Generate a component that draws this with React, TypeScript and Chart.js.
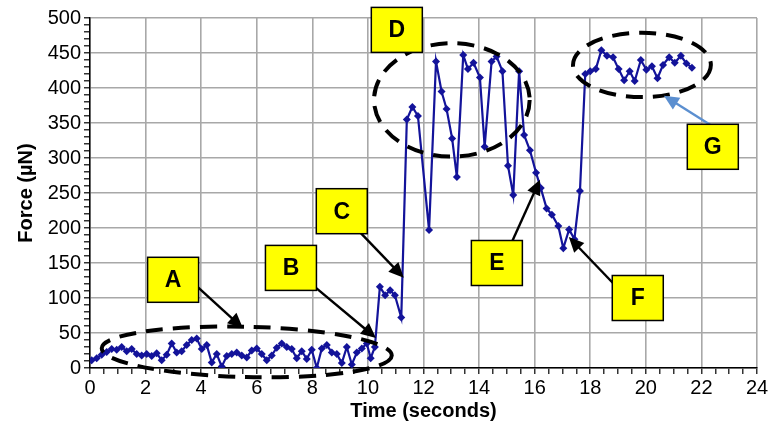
import React, { useEffect, useRef } from "react";
import { Chart, registerables } from "chart.js";

Chart.register(...registerables);

// Time (s) of each sample
const timeSec = [
  0.06, 0.24, 0.42, 0.6, 0.78, 0.96, 1.14, 1.32, 1.5, 1.68, 1.86, 2.04, 2.22, 2.4, 2.58, 2.76, 2.94, 3.12, 3.3, 3.48,
  3.66, 3.84, 4.02, 4.2, 4.38, 4.56, 4.74, 4.92, 5.1, 5.28, 5.46, 5.64, 5.82, 6.0, 6.18, 6.36, 6.54, 6.72, 6.9, 7.08,
  7.26, 7.44, 7.62, 7.8, 7.98, 8.16, 8.34, 8.52, 8.7, 8.88, 9.06, 9.24, 9.42, 9.6, 9.78, 9.96, 10.1, 10.25,
  10.43, 10.62, 10.8, 10.97, 11.2, 11.4, 11.6, 11.8, 12.2, 12.45, 12.65, 12.83, 13.03, 13.2, 13.43, 13.6, 13.8, 14.03,
  14.2, 14.45, 14.63, 14.84, 15.04, 15.23, 15.44, 15.62, 15.83, 16.05, 16.22, 16.43, 16.62, 16.85, 17.03, 17.24, 17.43,
  17.63, 17.82, 18.0, 18.2, 18.4, 18.6, 18.82, 19.02, 19.22, 19.42, 19.6, 19.82, 20.02, 20.22, 20.42, 20.62, 20.84,
  21.04, 21.26, 21.46, 21.66,
];

// Force (µN) of each sample
const forceUN = [
  11, 14, 19, 23, 27, 26, 30, 24, 27, 20, 18, 20, 17, 21, 11, 19, 35, 22, 24, 33,
  40, 42, 27, 33, 8, 20, 2, 17, 20, 22, 18, 15, 25, 28, 20, 11, 18, 29, 35, 30,
  27, 14, 24, 13, 26, 0, 28, 33, 22, 20, 7, 30, 5, 22, 28, 35, 14, 30,
  116, 104, 111, 104, 72, 355, 373, 360, 197, 438, 395, 370, 328, 273, 447, 427, 436, 415,
  316, 438, 445, 424, 289, 247, 424, 333, 311, 279, 257, 228, 219, 203, 171, 198, 184,
  253, 420, 424, 427, 454, 446, 444, 427, 411, 424, 410, 440, 426, 431, 414, 433, 444,
  436, 446, 435, 429,
];

// Annotation labels (box centre in data units)
const labelText = ["A", "B", "C", "D", "E", "F", "G"];
const labelT = [2.99, 7.23, 9.06, 11.04, 14.64, 19.71, 22.41];
const labelF = [126, 143, 224, 483, 150, 100, 316];

// Arrows (from -> to, data units)
const arrowFromT = [3.78, 7.99, 9.71, 15.18, 18.85, 22.37];
const arrowFromF = [119, 119, 194, 180, 120, 346];
const arrowToT = [5.5, 10.29, 11.29, 16.19, 17.23, 20.65];
const arrowToF = [57, 43, 129, 269, 187, 389];
const arrowColor = ["#000", "#000", "#000", "#000", "#000", "#5b8fd0"];

// Dashed ellipses (centre and radii in data units)
const ellipseT = [5.64, 13.02, 19.86];
const ellipseF = [23, 383, 433];
const ellipseRT = [5.22, 2.8, 2.48];
const ellipseRF = [36, 81, 46];
const ellipseRot = [0.025, 0, 0];

const annotPlugin = {
  id: "annot",
  afterDatasetsDraw(chart: any) {
    const { ctx, scales } = chart;
    const xs = scales.x;
    const ys = scales.y;
    ctx.save();
    ctx.strokeStyle = "#000";
    ctx.lineWidth = 4;
    ctx.setLineDash([17, 10]);
    for (let i = 0; i < ellipseT.length; i++) {
      const cx = xs.getPixelForValue(ellipseT[i]);
      const cy = ys.getPixelForValue(ellipseF[i]);
      const rx = xs.getPixelForValue(ellipseT[i] + ellipseRT[i]) - cx;
      const ry = cy - ys.getPixelForValue(ellipseF[i] + ellipseRF[i]);
      ctx.beginPath();
      ctx.ellipse(cx, cy, rx, ry, ellipseRot[i], 0, Math.PI * 2);
      ctx.stroke();
    }
    ctx.setLineDash([]);
    for (let i = 0; i < arrowFromT.length; i++) {
      const x1 = xs.getPixelForValue(arrowFromT[i]);
      const y1 = ys.getPixelForValue(arrowFromF[i]);
      const x2 = xs.getPixelForValue(arrowToT[i]);
      const y2 = ys.getPixelForValue(arrowToF[i]);
      const ang = Math.atan2(y2 - y1, x2 - x1);
      const head = 15;
      const hw = 7;
      ctx.strokeStyle = arrowColor[i];
      ctx.fillStyle = arrowColor[i];
      ctx.lineWidth = 2.4;
      ctx.beginPath();
      ctx.moveTo(x1, y1);
      ctx.lineTo(x2 - Math.cos(ang) * head * 0.8, y2 - Math.sin(ang) * head * 0.8);
      ctx.stroke();
      ctx.beginPath();
      ctx.moveTo(x2, y2);
      ctx.lineTo(x2 - Math.cos(ang) * head - Math.sin(ang) * hw, y2 - Math.sin(ang) * head + Math.cos(ang) * hw);
      ctx.lineTo(x2 - Math.cos(ang) * head + Math.sin(ang) * hw, y2 - Math.sin(ang) * head - Math.cos(ang) * hw);
      ctx.closePath();
      ctx.fill();
    }
    const bw = 51;
    const bh = 45;
    ctx.font = "bold 23px 'Liberation Sans', Arial, sans-serif";
    ctx.textAlign = "center";
    ctx.textBaseline = "middle";
    for (let i = 0; i < labelText.length; i++) {
      const cx = xs.getPixelForValue(labelT[i]);
      const cy = ys.getPixelForValue(labelF[i]);
      ctx.fillStyle = "#ffff00";
      ctx.fillRect(cx - bw / 2, cy - bh / 2, bw, bh);
      ctx.strokeStyle = "#000";
      ctx.lineWidth = 1.5;
      ctx.strokeRect(cx - bw / 2, cy - bh / 2, bw, bh);
      ctx.fillStyle = "#000";
      ctx.fillText(labelText[i], cx, cy + 1);
    }
    ctx.restore();
  },
};

export default function App() {
  const ref = useRef<HTMLCanvasElement | null>(null);
  useEffect(() => {
    if (!ref.current) return;
    const points = timeSec.map((t, i) => ({ x: t, y: forceUN[i] }));
    const lineColor = "#13139a";
    const tickFont = { family: "'Liberation Sans', Arial, sans-serif", size: 20 };
    const titleFont = { family: "'Liberation Sans', Arial, sans-serif", size: 20, weight: "bold" as const };
    const chart = new Chart(ref.current, {
      type: "line",
      data: {
        datasets: [
          {
            data: points,
            borderColor: lineColor,
            backgroundColor: lineColor,
            borderWidth: 2.2,
            pointStyle: "rectRot",
            pointRadius: 4,
            pointBackgroundColor: lineColor,
            pointBorderColor: lineColor,
            pointBorderWidth: 0,
            tension: 0,
            fill: false,
          },
        ],
      },
      options: {
        responsive: false,
        animation: false,
        events: [],
        layout: { padding: { top: 18, right: 14, left: 0, bottom: 0 } },
        plugins: { legend: { display: false }, tooltip: { enabled: false } },
        scales: {
          x: {
            type: "linear",
            min: 0,
            max: 24,
            afterFit: (s: any) => {
              s.height = 65;
            },
            ticks: {
              stepSize: 0.5,
              autoSkip: false,
              maxRotation: 0,
              padding: 2,
              color: "#000",
              font: tickFont,
              callback: (v: any) => (Math.abs(v % 2) < 1e-6 ? String(v) : ""),
            },
            grid: {
              color: (c: any) => (c.tick && Math.abs(c.tick.value % 2) < 1e-6 ? "#a8a8a8" : "rgba(0,0,0,0)"),
              lineWidth: 1.6,
              tickColor: "#000",
              tickLength: 6,
              tickWidth: 1.2,
            },
            border: { color: "#000", width: 1.5 },
            title: { display: true, text: "Time (seconds)", color: "#000", font: titleFont, padding: { top: 0, bottom: 10 } },
          },
          y: {
            min: 0,
            max: 500,
            afterFit: (s: any) => {
              s.width = 90;
            },
            ticks: {
              stepSize: 10,
              autoSkip: false,
              padding: 3,
              color: "#000",
              font: tickFont,
              callback: (v: any) => (v % 50 === 0 ? String(v) : ""),
            },
            grid: {
              color: (c: any) => (c.tick && c.tick.value % 50 === 0 ? "#a8a8a8" : "rgba(0,0,0,0)"),
              lineWidth: 1.6,
              tickColor: "#000",
              tickLength: 6,
              tickWidth: 1.2,
            },
            border: { color: "#000", width: 1.5 },
            title: { display: true, text: "Force (µN)", color: "#000", font: titleFont, padding: { top: 14, bottom: 0 } },
          },
        },
      },
      plugins: [annotPlugin],
    });
    return () => chart.destroy();
  }, []);
  return (
    <div style={{ position: "fixed", left: 0, top: 0, width: 771, height: 433, background: "#fff" }}>
      <canvas ref={ref} width={771} height={433} style={{ width: 771, height: 433 }} />
    </div>
  );
}
